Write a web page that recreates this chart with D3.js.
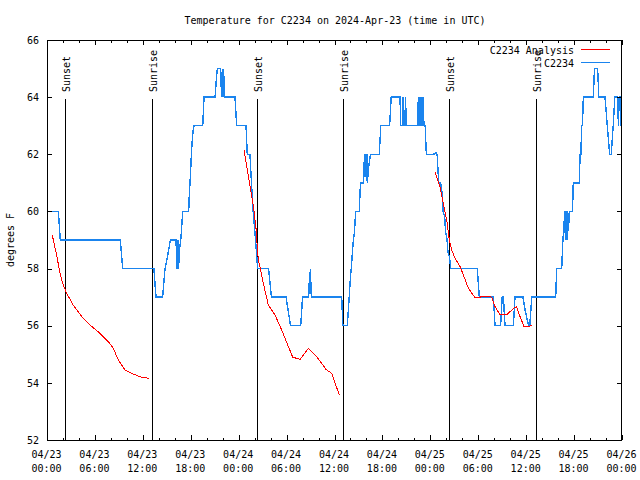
<!DOCTYPE html>
<html><head><meta charset="utf-8">
<script src="https://cdn.jsdelivr.net/npm/d3@7"></script>
<style>
html,body{margin:0;padding:0;background:#fff;}
svg{display:block;}
text{font-family:"DejaVu Sans Mono",monospace;font-size:10px;fill:#000;}
</style>
</head><body>
<svg id="c" width="640" height="480"></svg>
<script>
// ---- data (hours since 2024-04-23 00:00 UTC) ----
const titleText = "Temperature for C2234 on 2024-Apr-23 (time in UTC)";
const yTitle = "degrees F";
const obsName = "C2234";
const anaName = "C2234 Analysis";

const obsHours = [0,1.42,1.66,9.18,9.48,13.38,13.65,14.48,14.78,15.0,15.2,15.45,16.15,16.3,16.4,16.47,16.6,16.75,17.0,17.74,17.82,17.91,18.03,18.16,18.32,18.41,19.5,19.66,21.04,21.2,21.33,21.75,21.85,21.95,22.05,22.12,22.2,23.54,23.75,24.92,25.08,25.42,25.54,25.76,26.01,26.17,26.33,26.4,27.75,28.1,29.93,30.5,31.77,32.0,32.77,32.85,32.9,32.97,33.1,36.9,37.0,37.05,37.6,37.75,37.95,38.15,38.3,38.5,38.65,39.1,39.25,39.65,39.75,39.8,39.9,39.95,40.05,40.1,40.3,40.5,41.6,41.8,42.9,43.1,44.2,44.3,44.5,44.6,44.68,44.8,44.9,44.98,46.4,46.5,46.58,46.7,46.78,46.9,46.98,47.1,47.2,47.35,47.5,48.4,48.7,48.85,49.05,49.3,49.5,49.6,49.8,49.9,50.1,50.2,50.4,50.55,53.88,54.13,55.9,56.1,56.8,57.0,57.15,57.35,58.4,58.6,59.6,59.9,60.3,60.45,60.7,63.7,63.82,64.45,64.6,64.85,64.9,65.0,65.1,65.2,65.3,65.4,65.8,65.9,66.65,66.75,66.85,66.95,67.05,67.16,68.41,68.55,68.95,69.1,69.87,70.16,70.45,70.65,70.9,71.1,71.45,71.55,71.65,71.75,71.85,72];
const obsTemps = [60,60,59,59,58,58,57,57,58,58.3,58.6,59,59,58,59,58,58.7,59,60,60,60.6,61,61.7,62.4,62.9,63,63,64,64,64.6,65,65,64,65,64,65,64,64,63,63,62,62,61.33,60.17,59.35,58.77,58.18,58,58,57,57,56,56,57,57,57.6,57.3,58,57,57,56.3,56,56,56.6,57.5,58.2,58.8,59.3,60,60,61,61,62,61.2,62,61.2,62,61,61.6,62,62,63,63,64,64,63,63,64,63,63,64,63,63,64,63,64,63,64,63,64,63,63,62,62,62.05,62,61,61,60.6,60,59.8,59.3,59,58.6,58.4,58,58,57,57,56,56,57,57,56,56,57,57,56.5,56,56,57,57,58,58,59,60,59,60,59,60,59.3,60,60,61,61,62,62,63,63,64,64,65,65,64,64,63,62,62,63,64,64,63,64,64,63,63];

const anaHours = [0.66,0.79,1.21,1.63,2.04,2.47,3.29,4.35,5.38,6.64,7.68,8.3,8.93,9.77,10.81,11.65,12.77,null,24.67,25.2,25.83,26.17,26.33,26.46,26.67,27.09,27.71,28.55,29.39,30.22,30.77,31.68,32.72,33.77,34.94,35.65,36.6,null,48.58,49.21,49.62,50.05,50.38,50.68,51.09,51.72,52.13,52.76,53.59,54.22,54.84,55.68,56.1,56.72,57.56,58.39,58.81,59.23,59.73,60.15,60.69];
const anaTemps = [59.18,59.0,58.47,57.83,57.42,57.13,56.72,56.32,56.03,55.73,55.44,55.21,54.8,54.45,54.31,54.21,54.16,null,62.15,61.27,60.22,59.41,58.77,58.3,58.07,57.48,56.73,56.38,55.85,55.27,54.9,54.82,55.21,54.92,54.47,54.33,53.58,null,61.39,60.87,60.3,59.7,59.0,58.65,58.36,58.07,57.78,57.31,56.99,57.0,57.04,57.0,56.67,56.38,56.38,56.6,56.67,56.32,55.97,55.97,56.0];

const sunHours = [2.29,13.19,26.33,37.10,50.38,61.19];
const sunLabels = ["Sunset","Sunrise","Sunset","Sunrise","Sunset","Sunrise"];

const majorHours = [0,6,12,18,24,30,36,42,48,54,60,66,72];
const minorHours = [2,4,8,10,14,16,20,22,26,28,32,34,38,40,44,46,50,52,56,58,62,64,68,70];
const xTickDates = ["04/23","04/23","04/23","04/23","04/24","04/24","04/24","04/24","04/25","04/25","04/25","04/25","04/26"];
const xTickTimes = ["00:00","06:00","12:00","18:00","00:00","06:00","12:00","18:00","00:00","06:00","12:00","18:00","00:00"];
const yTicks = [52,54,56,58,60,62,64,66];

// ---- drawing ----
const svg = d3.select("#c");
const L = 47, R = 622, T = 40, B = 440;
const BLUE = "#1a84ee", RED = "#ff0000";
const x = d3.scaleLinear().domain([0,72]).range([L,R]);
const y = d3.scaleLinear().domain([52,66]).range([B,T]);

svg.append("rect").attr("width",640).attr("height",480).attr("fill","#fff");

// sunrise/sunset lines
const sunG = svg.append("g");
sunHours.forEach((h,i)=>{
  const xx = Math.round(x(h))+0.5;
  sunG.append("line").attr("x1",xx).attr("x2",xx).attr("y1",99).attr("y2",B)
    .attr("stroke","#000").attr("stroke-width",1).attr("shape-rendering","crispEdges");
  sunG.append("text").attr("transform",`translate(${xx+4.5},92) rotate(-90)`)
    .attr("text-anchor","start").text(sunLabels[i]);
});

// observations
const obs = obsHours.map((h,i)=>[h,obsTemps[i]]);
svg.append("path").datum(obs)
  .attr("fill","none").attr("stroke",BLUE).attr("stroke-width",1.4)
  .attr("shape-rendering","crispEdges")
  .attr("d", d3.line().x(d=>x(d[0])).y(d=>y(d[1])));

// analysis
const ana = anaHours.map((h,i)=>[h,anaTemps[i]]);
svg.append("path").datum(ana)
  .attr("fill","none").attr("stroke",RED).attr("stroke-width",1)
  .attr("shape-rendering","crispEdges")
  .attr("d", d3.line().defined(d=>d[0]!==null && d[1]!==null).x(d=>x(d[0])).y(d=>y(d[1])));

// axes
function styleAxis(g){ g.select(".domain").remove(); g.selectAll("line").attr("stroke","#000").attr("shape-rendering","crispEdges"); g.attr("font-family",null).attr("font-size",null); }

const gB = svg.append("g").attr("transform",`translate(0,${B})`)
  .call(d3.axisBottom(x).tickValues(majorHours).tickSize(-5).tickPadding(0).tickFormat(""));
styleAxis(gB);
gB.selectAll(".tick text").attr("dy",null).attr("y",null).each(function(d,i){
  const t = d3.select(this);
  t.append("tspan").attr("x",-1).attr("y",18).text(xTickDates[i]);
  t.append("tspan").attr("x",-1).attr("y",31.5).text(xTickTimes[i]);
});
const gBm = svg.append("g").attr("transform",`translate(0,${B})`)
  .call(d3.axisBottom(x).tickValues(minorHours).tickSize(-2.5).tickFormat(""));
styleAxis(gBm);

const gT = svg.append("g").attr("transform",`translate(0,${T})`)
  .call(d3.axisTop(x).tickValues(majorHours).tickSize(-5).tickFormat(""));
styleAxis(gT);
const gTm = svg.append("g").attr("transform",`translate(0,${T})`)
  .call(d3.axisTop(x).tickValues(minorHours).tickSize(-2.5).tickFormat(""));
styleAxis(gTm);

const gL = svg.append("g").attr("transform",`translate(${L},0)`)
  .call(d3.axisLeft(y).tickValues(yTicks).tickSize(-5).tickPadding(8).tickFormat(d3.format("d")));
styleAxis(gL);
const gR = svg.append("g").attr("transform",`translate(${R},0)`)
  .call(d3.axisRight(y).tickValues(yTicks).tickSize(-5).tickFormat(""));
styleAxis(gR);

// border
svg.append("rect").attr("x",L+0.5).attr("y",T+0.5).attr("width",R-L-1).attr("height",B-T)
  .attr("fill","none").attr("stroke","#000").attr("stroke-width",1).attr("shape-rendering","crispEdges");

// title and axis title
svg.append("text").attr("x",335).attr("y",23.5).attr("text-anchor","middle").text(titleText);
svg.append("text").attr("transform","translate(14,240) rotate(-90)").attr("text-anchor","middle").text(yTitle);

// legend
const lg = svg.append("g");
lg.append("text").attr("x",574).attr("y",54).attr("text-anchor","end").text(anaName);
lg.append("line").attr("x1",581).attr("x2",610).attr("y1",49.5).attr("y2",49.5).attr("stroke",RED).attr("stroke-width",1).attr("shape-rendering","crispEdges");
lg.append("text").attr("x",574).attr("y",66.5).attr("text-anchor","end").text(obsName);
lg.append("line").attr("x1",581).attr("x2",610).attr("y1",62.5).attr("y2",62.5).attr("stroke",BLUE).attr("stroke-width",1.4).attr("shape-rendering","crispEdges");
</script>
</body></html>
